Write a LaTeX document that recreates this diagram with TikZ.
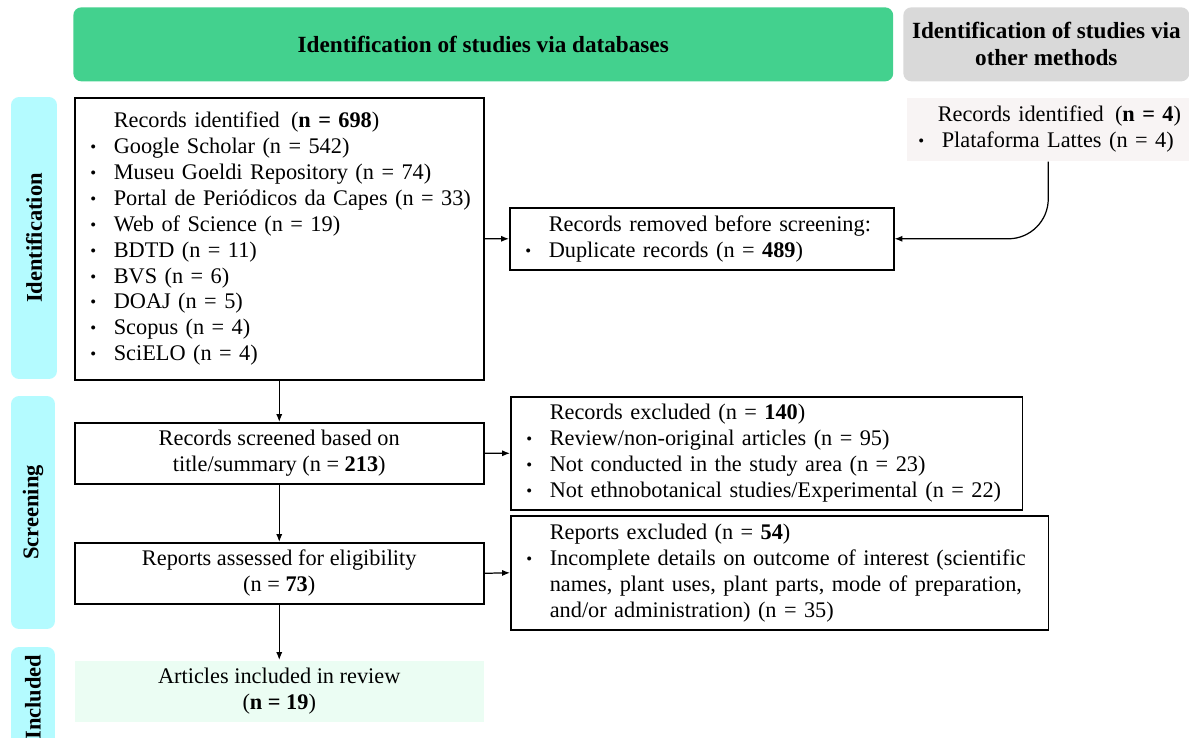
\documentclass[tikz,border=0pt]{standalone}
\usepackage{fontspec}
\setmainfont{Liberation Serif}
\usepackage{graphicx}
\usepackage{xcolor}
\usetikzlibrary{arrows.meta, positioning}

\definecolor{dbgreen}{HTML}{43D18E}
\definecolor{othgrey}{HTML}{D9D9D9}
\definecolor{stagecyan}{HTML}{B4FBFF}
\definecolor{othfill}{HTML}{F8F4F4}
\definecolor{inclfill}{HTML}{EBFDF3}

\newcommand{\bul}{\makebox[0.58cm][l]{\hspace{0.11cm}\raisebox{0.1ex}{\scalebox{0.75}{\textbullet}}}}
\newcommand{\nob}{\hspace*{0.58cm}}

\tikzset{
  header/.style={anchor=north west, rounded corners=0.16cm, align=center,
    font=\fontsize{13.2}{15.3}\selectfont\bfseries},
  stagebar/.style={fill=stagecyan, rounded corners=0.16cm, rotate=90,
    font=\fontsize{12.8}{14}\selectfont\bfseries},
  flowbox/.style={draw, line width=0.9pt, anchor=north west, align=center,
    minimum width=8.18cm, minimum height=1.22cm},
  listbox/.style={draw, line width=0.9pt, anchor=north west, align=left,
    inner xsep=0.2cm},
  arr/.style={-{Latex[length=4.5pt,width=3.5pt]}, line width=0.7pt},
}

\begin{document}
\begin{tikzpicture}[x=0.02cm, y=-0.02cm, font=\fontsize{12.7}{14.74}\selectfont]
\clip (0,0) rectangle (1189,737);

\node[header, fill=dbgreen, minimum width=16.4cm, minimum height=1.48cm] (DBHead) at (73,7)
  {Identification of studies via databases};
\node[header, fill=othgrey, minimum width=5.72cm, minimum height=1.48cm] (OtherHead) at (903,7)
  {Identification of studies via\\other methods};

\node[stagebar, minimum width=5.64cm, minimum height=0.92cm] (IdBar) at (34,238) {Identification};
\node[stagebar, minimum width=4.66cm, minimum height=0.88cm] (ScrBar) at (33,512.5) {Screening};
\node[stagebar, minimum width=2cm, minimum height=0.88cm] (IncBar) at (33,697) {Included};

\node[listbox, text width=7.78cm, minimum height=5.64cm] (Records) at (74,97)
  {\nob Records identified\hspace{0.5em}(\textbf{n = 698})\\
   \bul Google Scholar (n = 542)\\
   \bul Museu Goeldi Repository (n = 74)\\
   \mbox{\bul Portal de Periódicos da Capes (n = 33)}\\
   \bul Web of Science (n = 19)\\
   \bul BDTD (n = 11)\\
   \bul BVS (n = 6)\\
   \bul DOAJ (n = 5)\\
   \bul Scopus (n = 4)\\
   \bul SciELO (n = 4)};

\node[listbox, draw=none, fill=othfill, inner xsep=0.12cm, text width=5.42cm, minimum height=1.26cm] (Other) at (906,97)
  {\mbox{\hspace*{0.5cm}Records identified\hspace{0.5em}(\textbf{n = 4})}\\
   \mbox{\bul Plataforma Lattes (n = 4)}};

\node[listbox, text width=7.28cm, minimum height=1.24cm] (Removed) at (509,207)
  {\nob Records removed before screening:\\
   \bul Duplicate records (n = \textbf{489})};

\node[flowbox] (Screened) at (74,422)
  {Records screened based on\\title/summary (n = \textbf{213})};

\node[listbox, text width=9.84cm, minimum height=2.26cm] (RecExcl) at (510,396)
  {\nob Records excluded (n = \textbf{140})\\
   \bul Review/non-original articles (n = 95)\\
   \bul Not conducted in the study area (n = 23)\\
   \mbox{\bul Not ethnobotanical studies/Experimental (n = 22)}};

\node[flowbox] (Assessed) at (74,542)
  {Reports assessed for eligibility\\(n = \textbf{73})};

\node[listbox, text width=10.36cm, minimum height=2.28cm] (RepExcl) at (510,515)
  {\nob Reports excluded (n = \textbf{54})\\
   \mbox{\bul Incomplete details on outcome of interest (scientific}\\
   \mbox{\nob names, plant uses, plant parts, mode of preparation,}\\
   \nob and/or administration) (n = 35)};

\node[flowbox, draw=none, fill=inclfill] (Included) at (74,660)
  {Articles included in review\\(\textbf{n = 19})};

\draw[arr] (Records.south) -- (Screened.north);
\draw[arr] (Screened.south) -- (Assessed.north);
\draw[arr] (Assessed.south) -- (Included.north);
\draw[arr] (Records.east) -- (Removed.west);
\draw[arr] (Screened.east) -- (RecExcl.west);
\draw[arr] (Assessed.east) -- (RepExcl.west);
\draw[arr, rounded corners=0.8cm] (Other.south) |- (Removed.east);
\end{tikzpicture}
\end{document}
